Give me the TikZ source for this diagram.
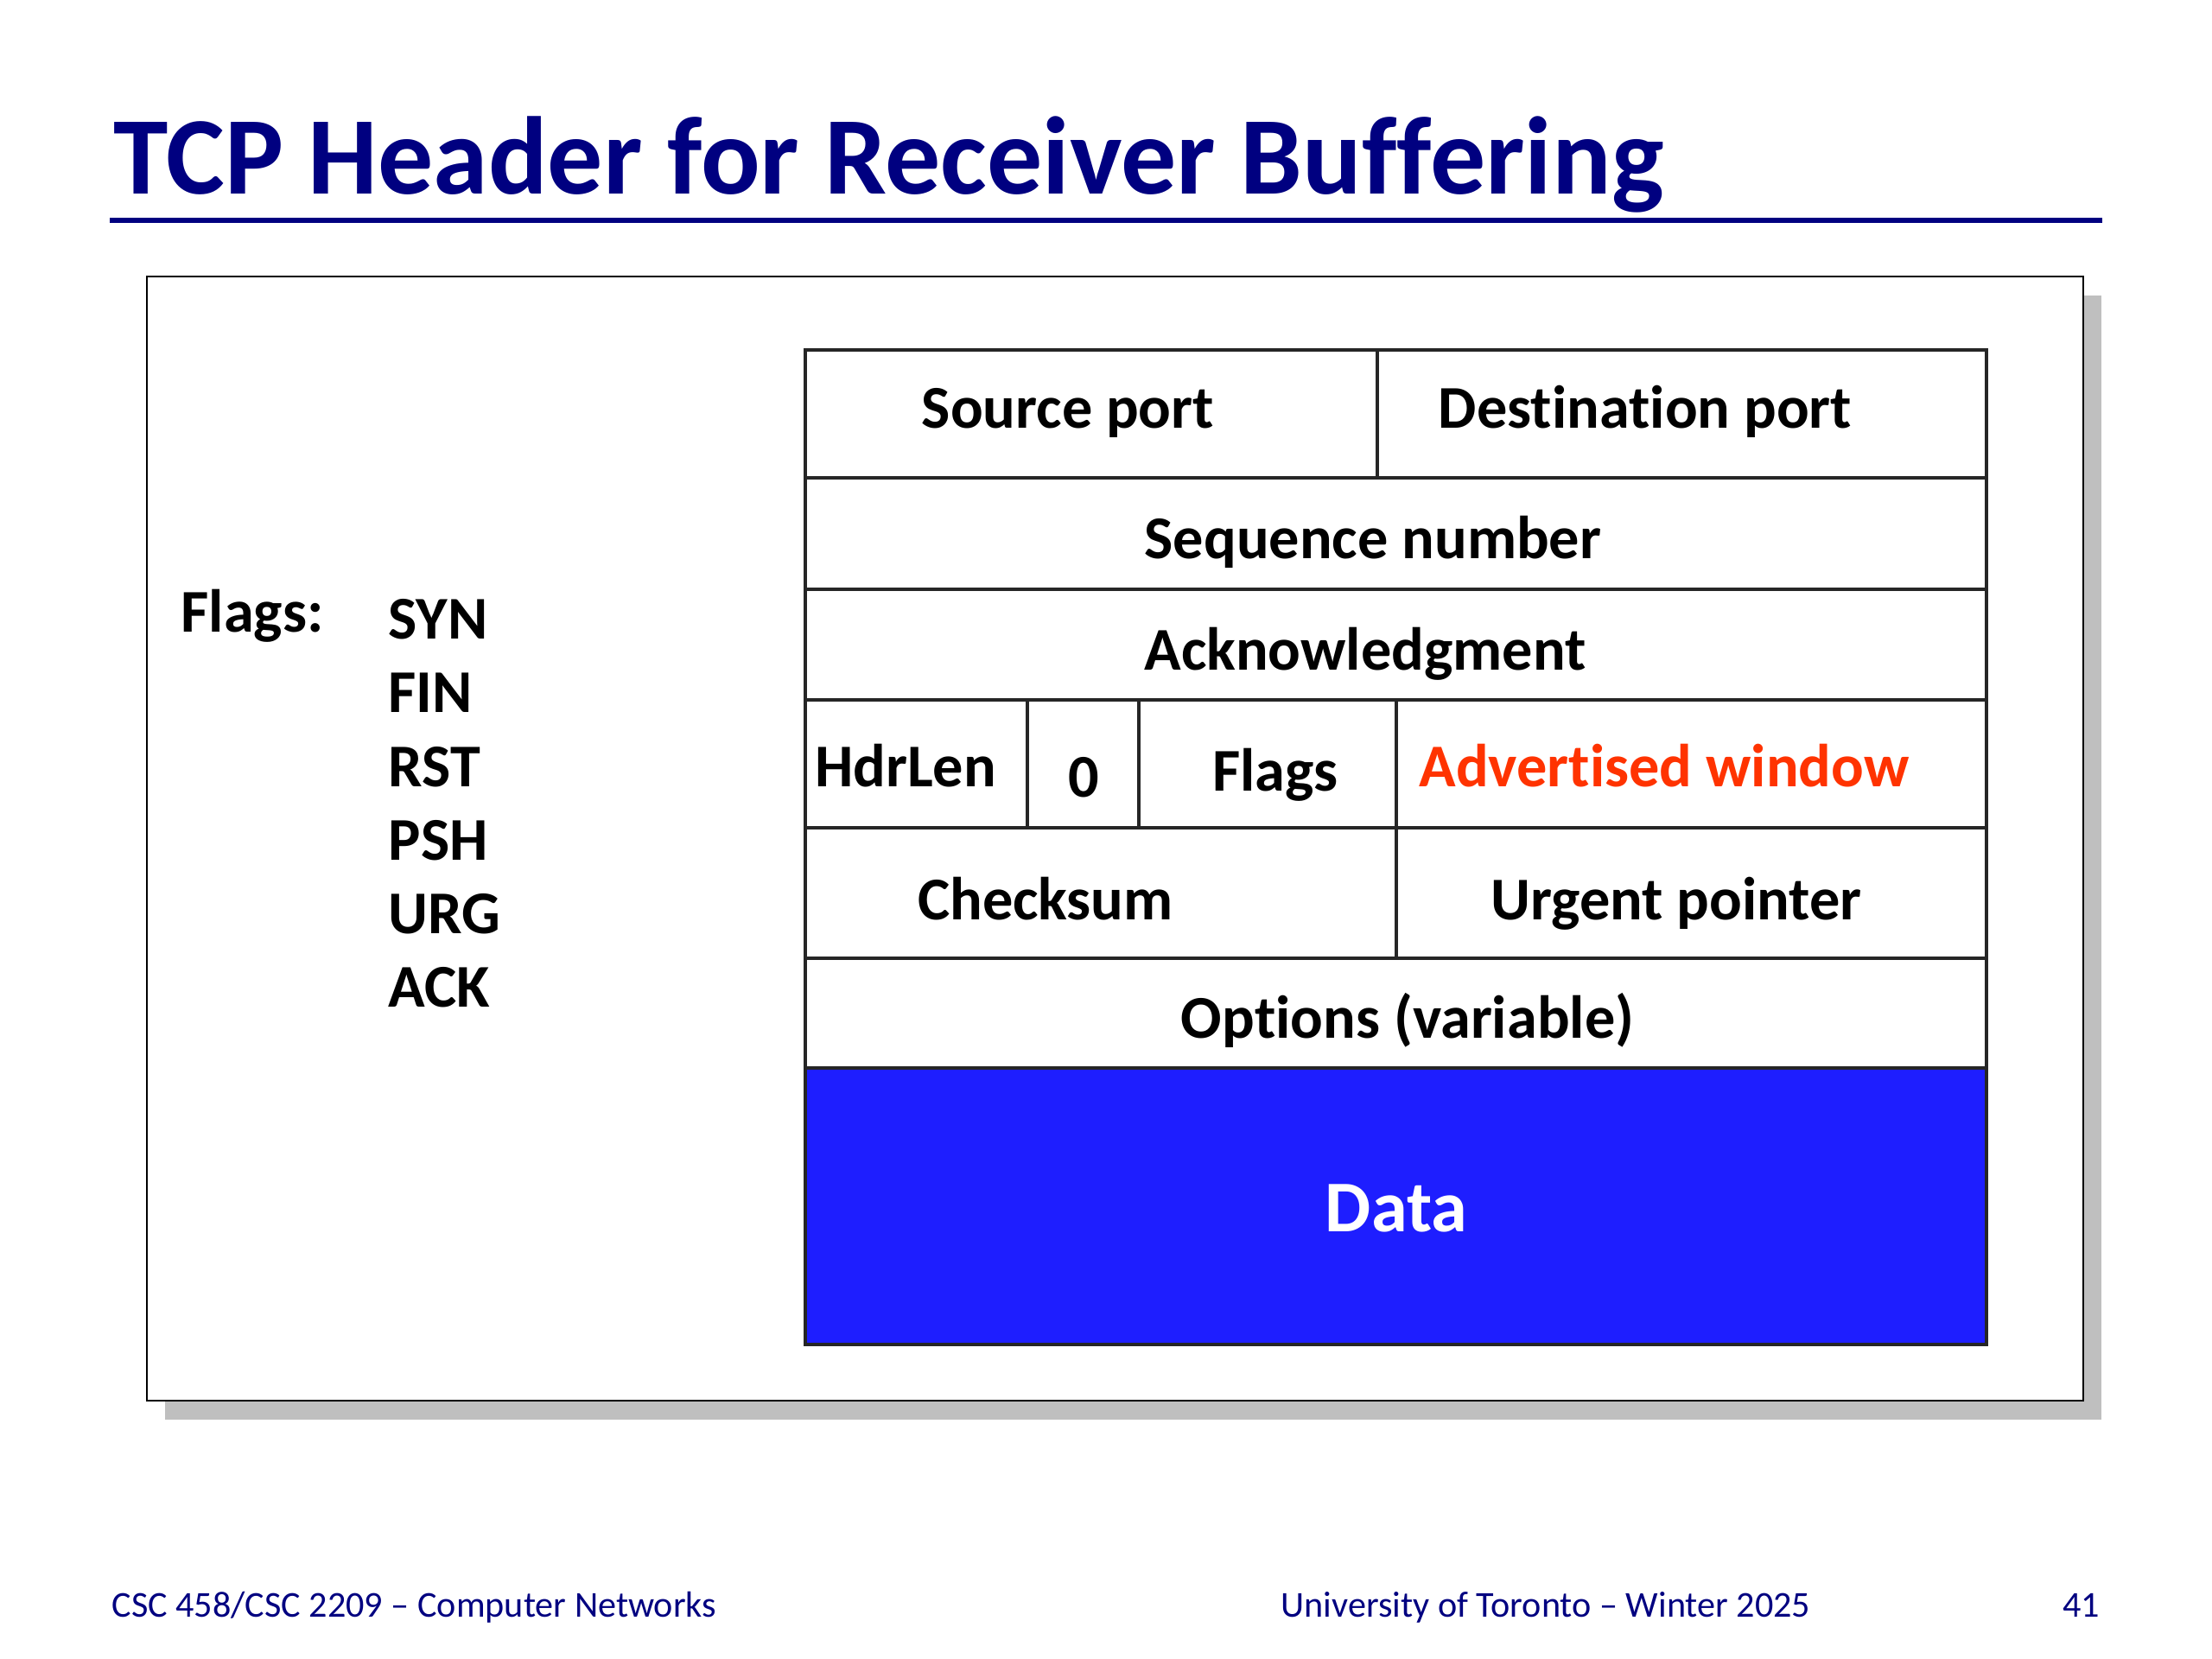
\documentclass[tikz,border=0pt]{standalone}
\usepackage{fontspec}
\setmainfont{Carlito}[Ligatures={NoCommon,NoContextual,NoRequired}, RawFeature=-calt]
\usetikzlibrary{positioning}

\definecolor{titleblue}{RGB}{0,0,128}
\definecolor{datablue}{RGB}{30,30,255}
\definecolor{advred}{RGB}{255,51,0}
\definecolor{shadowgray}{RGB}{191,191,191}

\tikzset{
  field/.style={font=\bfseries\fontsize{20}{24}\selectfont, inner sep=0pt, text height=0.44cm, text depth=0pt},
  flagname/.style={field, anchor=west},
  footer/.style={font=\fontsize{12}{14}\selectfont, text=titleblue, inner sep=0pt, text height=0.27cm, text depth=0pt},
  gridline/.style={black!85, line width=1.1pt},
}

\begin{document}
\begin{tikzpicture}[y=-1cm]
\useasboundingbox (0,0) rectangle (25.6,19.2);

% title
\node[anchor=west, font=\bfseries\fontsize{36.4}{40}\selectfont, text=titleblue, inner sep=0pt, text height=0.82cm, text depth=0pt] (title) at (1.31,1.84) {TCP Header for Receiver Buffering};
\draw[titleblue, line width=1.8pt] (1.27,2.55) -- (24.33,2.55);

% frame with shadow
\fill[shadowgray] (1.91,3.42) rectangle (24.32,16.43);
\draw[fill=white, line width=0.8pt] (1.70,3.20) rectangle (24.11,16.21);

% header grid
\fill[datablue] (9.32,12.36) rectangle (22.99,15.56);
\draw[gridline] (9.32,4.05) rectangle (22.99,15.56);
\draw[gridline] (9.32,5.53) -- (22.99,5.53);
\draw[gridline] (9.32,6.82) -- (22.99,6.82);
\draw[gridline] (9.32,8.10) -- (22.99,8.10);
\draw[gridline] (9.32,9.58) -- (22.99,9.58);
\draw[gridline] (9.32,11.09) -- (22.99,11.09);
\draw[gridline] (9.32,12.36) -- (22.99,12.36);
\draw[gridline] (15.94,4.05) -- (15.94,5.53); %ports
\draw[gridline] (11.89,8.10) -- (11.89,9.58); %hdrlen
\draw[gridline] (13.18,8.10) -- (13.18,9.58); %0
\draw[gridline] (16.16,8.10) -- (16.16,11.09); %flags, checksum

% fields
\node[field] (src) at (12.36,4.74) {Source port};
\node[field] (dst) at (19.04,4.74) {Destination port};
\node[field] (seq) at (15.89,6.24) {Sequence number};
\node[field] (ack) at (15.80,7.53) {Acknowledgment};
\node[field] (hdrlen) at (10.48,8.88) {HdrLen};
\node[field] (zero) at (12.54,9.00) {0};
\node[field] (flagcell) at (14.76,8.93) {Flags};
\node[field, text=advred] (advwin) at (19.26,8.88) {Advertised window};
\node[field] (csum) at (12.10,10.42) {Checksum};
\node[field] (urg) at (19.40,10.42) {Urgent pointer};
\node[field] (opts) at (16.29,11.79) {Options (variable)};
\node[field, font=\bfseries\fontsize{24}{28}\selectfont, text height=0.53cm, text=white] (data) at (16.16,13.99) {Data};

% flag list
\node[flagname] (flagslbl) at (2.09,7.09) {Flags:};
\node[flagname] (syn) at (4.49,7.17) {SYN};
\node[flagname] (fin) at (4.49,8.02) {FIN};
\node[flagname] (rst) at (4.49,8.88) {RST};
\node[flagname] (psh) at (4.49,9.73) {PSH};
\node[flagname] (urgflag) at (4.49,10.58) {URG};
\node[flagname] (ackflag) at (4.49,11.43) {ACK};

% footer
\node[footer, anchor=west] (course) at (1.29,18.58) {CSC 458/CSC 2209 -- Computer Networks};
\node[footer, anchor=west] (uni) at (14.82,18.58) {University of Toronto -- Winter 2025};
\node[footer, anchor=east] (page) at (24.31,18.58) {41};
\end{tikzpicture}
\end{document}
